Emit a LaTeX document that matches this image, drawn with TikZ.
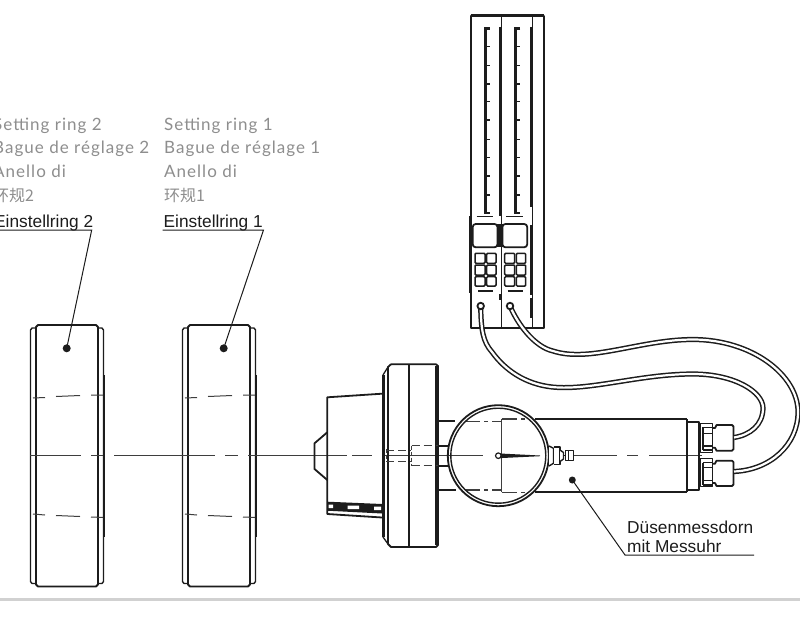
\documentclass[tikz,border=0pt]{standalone}
\usepackage{fontspec}
\setmainfont{Liberation Sans}
\newfontfamily\din[LetterSpace=6]{Lato}
\newfontfamily\cjk{Noto Sans CJK SC}
\definecolor{lab}{HTML}{8E8E8E}
\definecolor{ink}{HTML}{1C1C1C}
\tikzset{
  thin line/.style={draw=ink,line width=1pt},
  body line/.style={draw=ink,line width=1.8pt,line join=round},
  heavy line/.style={draw=ink,line width=2.8pt},
  center line/.style={draw=ink!85,line width=1pt},
  tube/.style={draw=ink,double=white,line width=1.5pt,double distance=2.2pt,line cap=butt},
  dot mark/.style={circle,fill=ink,inner sep=0pt},
  grey label/.style={anchor=base west,inner sep=0pt,text=lab,font=\din\fontsize{17}{20}\selectfont},
  grey cjk/.style={anchor=base west,inner sep=0pt,text=lab,font=\cjk\fontsize{16}{20}\selectfont},
  black label/.style={anchor=base west,inner sep=0pt,text=ink,font=\fontsize{17.3}{20}\selectfont},
  button/.style={draw=ink,line width=1.5pt,rounded corners=1pt},
}
\begin{document}
\begin{tikzpicture}[x=1pt,y=-1pt]
\useasboundingbox (0,0) rectangle (800,623);
\fill[white] (0,0) rectangle (800,623);
% bottom band
\fill[black!18] (0,597.5) rectangle (800,601);
% labels
\foreach \n/\x/\t in {2/-7/2,1/164/1}{
  \node[grey label] (sa\n) at (\x,130.5) {Setting ring \t};
  \node[grey label] (sb\n) at (\x,153.5) {Bague de réglage \t};
  \node[grey label] (sc\n) at (\x,177) {Anello di};
  \node[grey cjk]   (sd\n) at (\x,201) {环规\t};
}
\node[black label] (e2) at (-6,227.5) {Einstellring 2};
\node[black label] (e1) at (163.5,227.5) {Einstellring 1};
\node[black label] (m1) at (627,533) {Düsenmessdorn};
\node[black label] (m2) at (627,552) {mit Messuhr};
% rings
\foreach \n/\dx in {2/0,1/152}{
\begin{scope}[xshift=\dx]
  \draw[body line] (36,584.5) -- (36,327) -- (38,325) -- (96,325) -- (98,327) -- (98,584.5) -- (96,586.5) -- (38,586.5) -- cycle;
  \draw[body line,line width=1.4pt] (36,328) -- (32,328) -- (30.5,330) -- (30.5,581.5) -- (32,583.5) -- (36,583.5);
  \draw[body line,line width=1.4pt] (98,328) -- (102,328) -- (103.5,330) -- (103.5,581.5) -- (102,583.5) -- (98,583.5);
  \draw[heavy line,line width=2pt] (104,375) -- (104,537);
  \draw[center line] (33,398) -- (45,397.5) (56,396.5) -- (80,395.5) (91,395) -- (103,395);
  \draw[center line] (33,514) -- (45,515) (56,515.5) -- (80,516.5) (91,517) -- (103,517.5);
\end{scope}
}
% leaders
\node[dot mark,minimum size=8pt] (d2) at (66.7,348.3) {};
\node[dot mark,minimum size=8pt] (d1) at (223.7,348.3) {};
\coordinate (u2a) at (-1,230); \coordinate (u2b) at (91.7,230);
\coordinate (u1a) at (162.5,230); \coordinate (u1b) at (263.5,230);
\draw[thin line] (u2a) -- (u2b) -- (d2.center);
\draw[thin line] (u1a) -- (u1b) -- (d1.center);
\node[dot mark,minimum size=7pt] (d3) at (572.3,480) {};
\coordinate (u3a) at (625,555); \coordinate (u3b) at (754,555);
\draw[thin line] (d3.center) -- (u3a) -- (u3b);
% centre line
\draw[center line] (30,455.7) -- (81,455.7) (91,455.7) -- (103,455.7) (114,455.7) -- (215,455.7)
  (225,455.7) -- (238,455.7) (248,455.7) -- (347,455.7) (352,455.7) -- (372,455.7) (385,455.7) -- (483,455.7)
  (574,455.7) -- (617,455.7) (627,455.7) -- (638,455.7) (649,455.7) -- (702,455.7);
% nose piece
\draw[body line] (382,393.7) -- (327.3,397.3) -- (327.3,514) -- (382,517.5);
\draw[body line] (327.3,432.3) -- (314.5,443.3) -- (314.5,469) -- (327.3,480);
\fill[ink] (327.3,501.7) -- (382,504) -- (382,513.5) -- (327.3,510.7) -- cycle;
\fill[white] (328.5,504.5) rectangle (333,508) (347.5,505.5) rectangle (359,509) (374,506.5) rectangle (381,510);
% flange
\draw[body line] (391,364.3) -- (436,364.3) -- (438,366) -- (438,545) -- (436,547) -- (391,547) -- (388,544) -- (388,367) -- cycle;
\draw[heavy line] (383.5,375) -- (383.5,537);
\draw[body line,line width=1.3pt] (383,375) -- (388,367) (383,537) -- (388,544);
\draw[body line] (408.7,364.3) -- (408.7,547);
\draw[body line,line width=1.2pt] (436,366) -- (436,545);
% hidden parts in flange
\draw[center line,dashed,dash pattern=on 8pt off 4pt] (386,450) -- (411,450) (386,461.7) -- (411,461.7);
\draw[center line,dashed,dash pattern=on 8pt off 4pt] (411.5,445.7) -- (438,445.7) (411.5,465.7) -- (438,465.7);
\draw[center line,dashed,dash pattern=on 4pt off 2pt] (386,449) -- (386,462) (411,445.7) -- (411,465.7);
% gauge body
\draw[body line] (438,421) -- (455,421) (438,490) -- (456,490) (438,445.7) -- (449,445.7) (438,465.7) -- (449,465.7);
\draw[body line] (535,419) -- (686.7,419) (535,492.3) -- (686.7,492.3) (686.7,419) -- (686.7,492.3);
\draw[center line,line width=1.1pt] (465,421.7) -- (480,421.7) (484,421.7) -- (488,421.7) (492,421.7) -- (501.7,421.7)
   (501.7,419) -- (501.7,492.3)
   (501.7,419) -- (517,419) (521,419) -- (525,419)
   (465,490) -- (480,490) (484,490) -- (488,490) (492,490) -- (501.7,490)
   (501.7,492.3) -- (517,492.3) (521,492.3) -- (525,492.3);
% dial
\node[circle,draw=ink,line width=1.8pt,minimum size=101pt,inner sep=0pt] (dial) at (498.3,455.7) {};
\node[circle,draw=ink,line width=1.4pt,minimum size=95pt,inner sep=0pt] (dialin) at (498.3,455.7) {};
\fill[ink] (498,453.4) -- (540,455.5) -- (540,456.2) -- (498,458.2) -- cycle;
\node[circle,draw=ink,line width=1.2pt,fill=white,minimum size=5.5pt,inner sep=0pt] (hub) at (498.3,455.7) {};
% stem
\draw[body line,line width=1.4pt,fill=white] (549,446) -- (553.5,448.3) -- (553.5,463.3) -- (549,466);
\draw[body line,line width=1.4pt,fill=white] (553.5,447) -- (560,447) -- (560,464.5) -- (553.5,464.5);
\draw[body line,line width=1.4pt,fill=white] (560,450) -- (563.5,452.5) -- (563.5,459) -- (560,461.5);
\draw[body line,line width=1.2pt,fill=white] (565.7,450.7) rectangle (573.3,460.7);
\draw[thin line] (563.5,455.7) -- (565.7,455.7) (568,451) -- (568,460.5);
% tail collar and fittings
\draw[body line] (686.7,421.7) -- (699,421.7) -- (699,490) -- (686.7,490);
\foreach \yo/\yb/\ya/\yc/\yd/\ye/\yf/\yg in {423.3/452.7/427.3/433.3/446/450/425/450.7,458.3/486.7/462.7/467.3/480.7/485/460.7/486}{
  \draw[body line,line width=1.5pt] (700.5,\yo) rectangle (712.7,\yb);
  \draw[body line,line width=1.2pt] (703,\ya) -- (712.7,\ya) (703,\yc) -- (712.7,\yc) (703,\yd) -- (712.7,\yd) (703,\ye) -- (712.7,\ye) (703,\ya) -- (703,\ye);
  \draw[body line] (712.7,\yf+3) -- (715,\yf+3) -- (716.5,\yf) -- (732,\yf) -- (733.5,\yf+1.5) -- (733.5,\yg-1.5) -- (732,\yg) -- (716.5,\yg) -- (715,\yg-3) -- (712.7,\yg-3);
}
% controller
\coordinate (p1) at (480.7,306); \coordinate (p2) at (510,306);
\draw[body line] (470.7,15.7) rectangle (544.3,328.3);
\draw[heavy line,line width=3pt] (470.7,15.7) -- (544.3,15.7);
\draw[body line,line width=1.3pt] (501.3,16) -- (501.3,328) (532.7,16) -- (532.7,328);
\draw[heavy line,line width=2pt] (499.8,27) -- (499.8,216) (499.8,294) -- (499.8,300);
\draw[heavy line,line width=2pt] (531,27) -- (531,207) (531,225) -- (531,295) (531,298) -- (531,318);
\draw[heavy line,line width=1.8pt] (469.8,216) -- (469.8,293);
\foreach \x in {485.3,515.7}{
  \draw[heavy line,line width=2.6pt] (\x+4.5,28.5) -- (\x,28.5) -- (\x,213) -- (\x+4.5,213);
  \foreach \y in {46.7,65.7,84,101.7,120,139.3,157.7,176,195}
    \draw[thin line,line width=1.4pt] (\x,\y) -- (\x+4.5,\y);
}
\foreach \o in {0,29.7}{
\begin{scope}[xshift=\o]
  \draw[thin line,line width=1.2pt] (476.7,216.7) -- (493,216.7);
  \draw[body line,rounded corners=3pt] (472.7,224) rectangle (497.5,247.3);
  \foreach \xa/\xb in {475/485,486.7/496}{
    \foreach \ya/\yb in {253.3/263.3,265/275,276.7/286}
      \draw[button] (\xa,\ya) rectangle (\xb,\yb);
  }
  \draw[heavy line,line width=2pt] (478,291) -- (493,291);
\end{scope}
}
\fill[ink] (497.3,224) rectangle (502.5,247);
% tubes
\coordinate (t1) at (734,437.5); \coordinate (t2) at (734,471.5);
\draw[tube] (p1) .. controls (481,330) and (483,342) .. (492,352)
  .. controls (505,370) and (525,384) .. (552,387)
  .. controls (590,391) and (640,374) .. (693,374)
  .. controls (735,374) and (763,392) .. (763,408)
  .. controls (763,425) and (750,435) .. (t1);
\draw[tube] (p2) .. controls (518,325) and (535,347) .. (553,351)
  .. controls (590,363) and (640,339.5) .. (693,339.5)
  .. controls (752,339.5) and (798,375) .. (798,412)
  .. controls (798,445) and (770,470) .. (t2);
\node[circle,draw=ink,line width=1.8pt,fill=white,minimum size=6.5pt,inner sep=0pt] (h1) at (p1) {};
\node[circle,draw=ink,line width=1.8pt,fill=white,minimum size=6.5pt,inner sep=0pt] (h2) at (p2) {};
\end{tikzpicture}
\end{document}
